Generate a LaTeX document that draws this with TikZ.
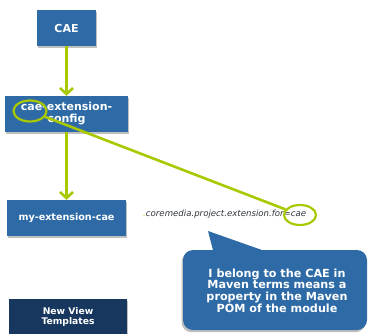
\documentclass[tikz,border=0pt]{standalone}
\usepackage{fontspec}
\setmainfont{DejaVu Sans}
\usetikzlibrary{shapes.geometric,arrows.meta,shadows}

\definecolor{boxblue}{HTML}{2E6BA6}
\definecolor{navyblue}{HTML}{17375E}
\definecolor{limegreen}{HTML}{A9C800}
\definecolor{propgray}{HTML}{2F343A}

\tikzset{
  x=1pt, y=-1pt,
  boxshadow/.style={drop shadow={shadow xshift=1pt, shadow yshift=-2.2pt, fill=black!45, opacity=.55}},
  modbox/.style={rectangle, fill=boxblue, text=white, align=center, inner sep=0pt,
    font=\bfseries\fontsize{11}{12}\selectfont, boxshadow},
  link/.style={draw=limegreen, line width=2.6pt},
  dep/.style={link, -{Straight Barb[length=6pt, width=13pt]}},
  marker/.style={ellipse, draw=limegreen, line width=2.2pt, inner sep=0pt},
}

\begin{document}
\begin{tikzpicture}
  \useasboundingbox (0,0) rectangle (369,333);

  % module boxes
  \node[modbox, minimum width=59pt, minimum height=36pt] (cae) at (66.5,28) {CAE};
  \node[modbox, minimum width=123pt, minimum height=36pt] (config) at (66.5,114)
    {cae-extension-\\config};
  \node[modbox, minimum width=119pt, minimum height=36pt,
        font=\bfseries\fontsize{9.6}{11}\selectfont] (myext) at (66.5,218) {my-extension-cae};
  \node[modbox, fill=navyblue, minimum width=118pt, minimum height=36pt,
        font=\bfseries\fontsize{9.2}{10}\selectfont] (nvt) at (68,317) {New View\\Templates};

  % dependencies
  \draw[dep] (cae.south) -- (config.north);
  \draw[dep] (config.south) -- (myext.north);

  % maven property
  \node[anchor=west, inner sep=0pt, text=propgray,
        font=\itshape\fontsize{8.6}{10}\selectfont] (prop) at (143,214)
    {\textcolor{limegreen}{.}coremedia.project.extension.for=cae};

  % highlighted "cae" markers and their link
  \node[marker, minimum width=33pt, minimum height=21pt] (mark1) at (30,111) {};
  \node[marker, minimum width=32pt, minimum height=20pt] (mark2) at (300,215) {};
  \draw[link] (mark1) -- (mark2);

  % speech bubble: rounded body, then its pointer on top
  \node[rectangle, rounded corners=10pt, fill=boxblue,
        drop shadow={shadow xshift=-1.5pt, shadow yshift=-2.2pt, fill=black!45, opacity=.55},
        minimum width=184pt, minimum height=80pt, inner sep=0pt] (bubble) at (275,290) {};
  \coordinate (tip) at (208,231);
  \fill[boxblue] (tip) -- (213.2,251) -- (264.8,251) -- cycle;
  \node[text=white, align=center, inner sep=0pt,
        font=\bfseries\fontsize{11.2}{11.7}\selectfont] (note) at (277,290.5)
    {I belong to the CAE in\\Maven terms means a\\property in the Maven\\POM of the module};
\end{tikzpicture}
\end{document}
